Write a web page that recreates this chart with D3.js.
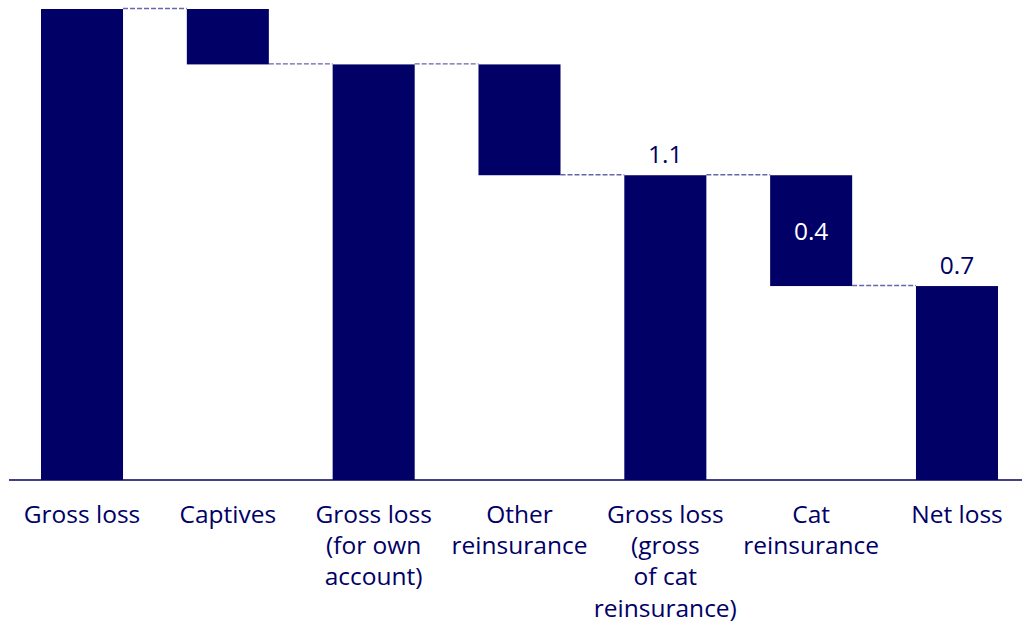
<!DOCTYPE html>
<html><head><meta charset="utf-8">
<script src="https://cdn.jsdelivr.net/npm/d3@7"></script>
<style>html,body{margin:0;padding:0;background:#fff;}svg{display:block;}</style>
</head><body>
<svg id="chart" width="1022" height="624"></svg>
<script>
const categories = [
  ["Gross loss"],
  ["Captives"],
  ["Gross loss", "(for own", "account)"],
  ["Other", "reinsurance"],
  ["Gross loss", "(gross", "of cat", "reinsurance)"],
  ["Cat", "reinsurance"],
  ["Net loss"]
];
const values = [1.7, -0.2, 1.5, -0.4, 1.1, -0.4, 0.7];
const isTotal = [true, false, true, false, true, false, true];
const valueLabels = ["", "", "", "", "1.1", "0.4", "0.7"];

const navy = "#000066";
const svg = d3.select("#chart");
const baseY = 480;
const fontSize = 24.5;

const keys = categories.map((c, i) => i);
const x = d3.scaleBand().domain(keys).range([9.1, 1029.9]).paddingInner(0.4375).paddingOuter(0.21875);
const y = d3.scaleLinear().domain([0, 1.7]).range([baseY, 9]);

let running = 0;
const segs = values.map((v, i) => {
  let lo, hi;
  if (isTotal[i]) { lo = 0; hi = v; running = v; }
  else { hi = running; lo = running + v; running = lo; }
  return {i, lo, hi, end: running, label: valueLabels[i]};
});

// connectors
const conn = svg.append("g");
segs.slice(0, -1).forEach(s => {
  conn.append("line")
    .attr("x1", x(s.i) + x.bandwidth())
    .attr("x2", x(s.i + 1))
    .attr("y1", y(s.end) - 0.5).attr("y2", y(s.end) - 0.5)
    .attr("stroke", "#6666aa").attr("stroke-width", 1.4)
    .attr("stroke-dasharray", "5,2");
});

// bars
svg.append("g").selectAll("rect").data(segs).join("rect")
  .attr("x", d => x(d.i))
  .attr("width", x.bandwidth())
  .attr("y", d => y(d.hi))
  .attr("height", d => y(d.lo) - y(d.hi))
  .attr("fill", navy);

// value labels
svg.append("g").selectAll("text").data(segs.filter(d => d.label)).join("text")
  .attr("x", d => x(d.i) + x.bandwidth() / 2)
  .attr("y", d => isTotal[d.i] ? y(d.hi) - 12 : (y(d.hi) + y(d.lo)) / 2 + 9)
  .attr("text-anchor", "middle")
  .attr("font-family", "'Open Sans', sans-serif")
  .attr("font-size", fontSize)
  .attr("fill", d => isTotal[d.i] ? navy : "#fff")
  .text(d => d.label);

// axis
const axis = d3.axisBottom(x).tickSize(0).tickFormat("");
const ag = svg.append("g").attr("transform", `translate(0,${baseY})`).call(axis);
ag.select(".domain").attr("stroke", navy).attr("stroke-width", 1.5).attr("d", "M9,0H1022");

// category labels
const lab = svg.append("g");
categories.forEach((lines, i) => {
  const cx = x(i) + x.bandwidth() / 2;
  const t = lab.append("text")
    .attr("x", cx).attr("y", 523)
    .attr("text-anchor", "middle")
    .attr("font-family", "'Open Sans', sans-serif")
    .attr("font-size", fontSize)
    .attr("fill", navy);
  lines.forEach((ln, j) => {
    t.append("tspan").attr("x", cx).attr("y", 523 + j * 31.2).text(ln);
  });
});
</script>
</body></html>
